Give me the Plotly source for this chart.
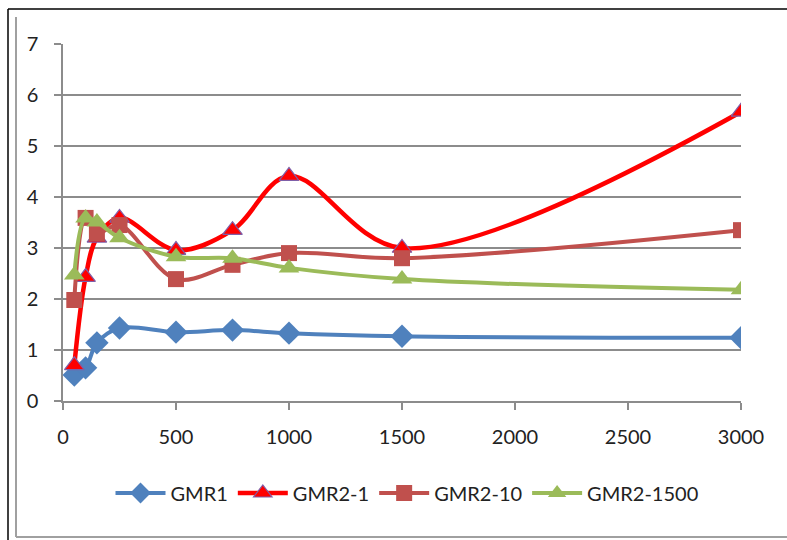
import plotly.graph_objects as go

x_vals = [50, 100, 150, 250, 500, 750, 1000, 1500, 3000]
gmr1 = [0.51, 0.65, 1.14, 1.43, 1.35, 1.39, 1.33, 1.27, 1.24]
gmr2_1 = [0.70, 2.43, 3.20, 3.59, 2.96, 3.35, 4.41, 3.00, 5.67]
gmr2_10 = [1.98, 3.59, 3.29, 3.45, 2.39, 2.67, 2.90, 2.80, 3.35]
gmr2_1500 = [2.47, 3.59, 3.51, 3.20, 2.83, 2.80, 2.61, 2.39, 2.18]

names = ["GMR1", "GMR2-1", "GMR2-10", "GMR2-1500"]
x_ticks = [0, 500, 1000, 1500, 2000, 2500, 3000]
y_ticks = [0, 1, 2, 3, 4, 5, 6, 7]

FONT = "Lato"
fig = go.Figure()

fig.add_trace(go.Scatter(x=x_vals, y=gmr1, name=names[0], mode="lines+markers",
                         line=dict(color="#4F81BD", width=4, shape="spline", smoothing=1),
                         marker=dict(symbol="diamond", size=18, color="#4F81BD")))
fig.add_trace(go.Scatter(x=x_vals, y=gmr2_1, name=names[1], mode="lines+markers",
                         line=dict(color="#FF0000", width=4.5, shape="spline", smoothing=1),
                         marker=dict(symbol="triangle-up", size=17, color="#FF0000",
                                     line=dict(color="#7F5FA8", width=1.2))))
fig.add_trace(go.Scatter(x=x_vals, y=gmr2_10, name=names[2], mode="lines+markers",
                         line=dict(color="#C0504D", width=4, shape="spline", smoothing=1),
                         marker=dict(symbol="square", size=16, color="#C0504D")))
fig.add_trace(go.Scatter(x=x_vals, y=gmr2_1500, name=names[3], mode="lines+markers",
                         line=dict(color="#9BBB59", width=4, shape="spline", smoothing=1),
                         marker=dict(symbol="triangle-up", size=18, color="#9BBB59")))

def px2x(px):
    return (px - 63) / 678.0

def py2y(py):
    return (401 - py) / 357.0

shapes = [
    dict(type="line", xref="paper", yref="paper", x0=px2x(8), x1=px2x(8), y0=py2y(9), y1=py2y(545),
         line=dict(color="#000000", width=1.5)),
    dict(type="line", xref="paper", yref="paper", x0=px2x(8), x1=px2x(800), y0=py2y(9), y1=py2y(9),
         line=dict(color="#000000", width=1.5)),
    dict(type="line", xref="paper", yref="paper", x0=px2x(16), x1=px2x(16), y0=py2y(17), y1=py2y(537),
         line=dict(color="#A0A0A0", width=2)),
    dict(type="line", xref="paper", yref="paper", x0=px2x(16), x1=px2x(800), y0=py2y(537), y1=py2y(537),
         line=dict(color="#A0A0A0", width=2)),
]

fig.update_layout(
    width=787, height=540,
    margin=dict(l=63, r=46, t=44, b=139),
    paper_bgcolor="white", plot_bgcolor="white",
    font=dict(family=FONT, size=20, color="#222222"),
    showlegend=True,
    legend=dict(orientation="h", x=px2x(407), xanchor="center", y=py2y(493), yanchor="middle",
                font=dict(family=FONT, size=20, color="#222222"), itemwidth=50,
                traceorder="normal"),
    shapes=shapes,
    xaxis=dict(range=[0, 3000], tickvals=x_ticks, ticktext=[str(v) for v in x_ticks],
               showgrid=False, zeroline=False, showline=True, linecolor="#8C8C8C", linewidth=1.5,
               ticks="outside", ticklen=7, tickcolor="#8C8C8C", tickwidth=1.5,
               ticklabelstandoff=10),
    yaxis=dict(range=[0, 7], tickvals=y_ticks, ticktext=[str(v) for v in y_ticks],
               showgrid=True, gridcolor="#8C8C8C", gridwidth=1.5, zeroline=False,
               showline=True, linecolor="#8C8C8C", linewidth=1.5,
               ticks="outside", ticklen=7, tickcolor="#8C8C8C", tickwidth=1.5,
               ticklabelstandoff=12),
)

fig.write_html("out.html")
